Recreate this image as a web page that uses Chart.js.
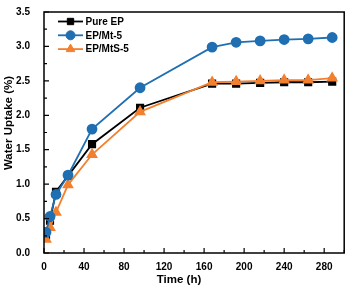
<!DOCTYPE html>
<html>
<head>
<meta charset="utf-8">
<script src="https://cdn.jsdelivr.net/npm/chart.js@4.4.0/dist/chart.umd.min.js"></script>
<style>
  html, body { margin: 0; padding: 0; background: #fff; }
  #wrap { width: 351px; height: 289px; }
</style>
</head>
<body>
<div id="wrap"><canvas id="uptakeChart" width="351" height="289"></canvas></div>
<script>
// time points (h)
const timeHours = [2, 6, 12, 24, 48, 96, 168, 192, 216, 240, 264, 288];
// water uptake (%)
const pureEP = [0.25, 0.47, 0.89, 1.12, 1.58, 2.11, 2.46, 2.46, 2.47, 2.48, 2.48, 2.49];
const epMt5 = [0.30, 0.53, 0.85, 1.13, 1.80, 2.40, 2.99, 3.06, 3.08, 3.10, 3.11, 3.13];
const epMtS5 = [0.20, 0.37, 0.59, 0.99, 1.43, 2.05, 2.48, 2.49, 2.50, 2.51, 2.51, 2.54];
const seriesNames = ['Pure EP', 'EP/Mt-5', 'EP/MtS-5'];
const xTicks = [0, 40, 80, 120, 160, 200, 240, 280];
const yTicks = [0.0, 0.5, 1.0, 1.5, 2.0, 2.5, 3.0, 3.5];
const xTitle = 'Time (h)';
const yTitle = 'Water Uptake (%)';

const colBlack = '#000000';
const colBlue = '#1f6fb2';
const colOrange = '#f3802e';
const boldFont = 'bold 10px "Liberation Sans", Arial, sans-serif';
const titleFont = 'bold 11.5px "Liberation Sans", Arial, sans-serif';

function toXY(ys) {
  return ys.map((v, i) => ({ x: timeHours[i], y: v }));
}

// frame, inward ticks, minor ticks and axis titles
const framePlugin = {
  id: 'frame',
  afterDatasetsDraw(chart) {
    const { ctx, chartArea: a, scales } = chart;
    ctx.save();
    ctx.strokeStyle = '#000';
    ctx.lineWidth = 1.5;
    ctx.strokeRect(a.left, a.top, a.right - a.left, a.bottom - a.top);
    ctx.lineWidth = 1.2;
    ctx.beginPath();
    for (let v = 0; v <= 300; v += 20) {
      const px = scales.x.getPixelForValue(v);
      const len = v % 40 === 0 ? 5 : 3;
      ctx.moveTo(px, a.bottom);
      ctx.lineTo(px, a.bottom - len);
    }
    for (let v = 0; v <= 3.5001; v += 0.25) {
      const py = scales.y.getPixelForValue(v);
      const len = Math.abs(v * 2 - Math.round(v * 2)) < 0.01 ? 5 : 3;
      ctx.moveTo(a.left, py);
      ctx.lineTo(a.left + len, py);
    }
    ctx.stroke();

    // titles (sit a bit off-centre in the original)
    ctx.fillStyle = '#000';
    ctx.font = titleFont;
    ctx.textAlign = 'center';
    ctx.textBaseline = 'middle';
    ctx.fillText(xTitle, 179, 280);
    ctx.translate(9, 123);
    ctx.rotate(-Math.PI / 2);
    ctx.fillText(yTitle, 0, 0);
    ctx.restore();
  }
};

// legend with line + marker
const lineLegend = {
  id: 'lineLegend',
  afterDatasetsDraw(chart) {
    const { ctx } = chart;
    const x0 = 58, x1 = 83, y0 = 21.5, dy = 13.8;
    ctx.save();
    chart.data.datasets.forEach((ds, i) => {
      const y = y0 + i * dy;
      ctx.strokeStyle = ds.borderColor;
      ctx.lineWidth = 1.8;
      ctx.beginPath();
      ctx.moveTo(x0, y);
      ctx.lineTo(x1, y);
      ctx.stroke();
      ctx.fillStyle = ds.backgroundColor;
      ctx.strokeStyle = ds.borderColor;
      ctx.lineWidth = 1;
      Chart.helpers.drawPoint(ctx, { pointStyle: ds.pointStyle, radius: ds.pointRadius, borderWidth: 1 }, (x0 + x1) / 2, y);
      ctx.fillStyle = '#000';
      ctx.font = boldFont;
      ctx.textBaseline = 'middle';
      ctx.textAlign = 'left';
      ctx.fillText(ds.label, 85.5, y + 0.5);
    });
    ctx.restore();
  }
};

new Chart(document.getElementById('uptakeChart').getContext('2d'), {
  type: 'line',
  data: {
    datasets: [
      {
        label: seriesNames[0],
        data: toXY(pureEP),
        borderColor: colBlack,
        backgroundColor: colBlack,
        pointStyle: 'rect',
        pointRadius: 4.5,
        borderWidth: 1.8,
        order: 2
      },
      {
        label: seriesNames[1],
        data: toXY(epMt5),
        borderColor: colBlue,
        backgroundColor: colBlue,
        pointStyle: 'circle',
        pointRadius: 4.5,
        borderWidth: 1.8,
        order: 0
      },
      {
        label: seriesNames[2],
        data: toXY(epMtS5),
        borderColor: colOrange,
        backgroundColor: colOrange,
        pointStyle: 'triangle',
        pointRadius: 5,
        borderWidth: 1.8,
        order: 1
      }
    ]
  },
  options: {
    responsive: false,
    animation: false,
    layout: { padding: { top: 9, right: 6, left: 0, bottom: 0 } },
    plugins: { legend: { display: false }, tooltip: { enabled: false } },
    scales: {
      x: {
        type: 'linear',
        min: 0,
        max: 300,
        afterBuildTicks: s => { s.ticks = xTicks.map(v => ({ value: v })); },
        afterFit: s => { s.height = 36; },
        grid: { display: false },
        border: { display: false },
        ticks: { color: '#000', font: { family: '"Liberation Sans", Arial', size: 10, weight: 'bold' }, padding: 0, maxRotation: 0 },
        title: { display: false }
      },
      y: {
        type: 'linear',
        min: 0,
        max: 3.5,
        afterBuildTicks: s => { s.ticks = yTicks.map(v => ({ value: v })); },
        afterFit: s => { s.width = 44; },
        grid: { display: false },
        border: { display: false },
        ticks: { color: '#000', font: { family: '"Liberation Sans", Arial', size: 10, weight: 'bold' }, padding: 6, callback: v => v.toFixed(1) },
        title: { display: false }
      }
    }
  },
  plugins: [framePlugin, lineLegend]
});
</script>
</body>
</html>
